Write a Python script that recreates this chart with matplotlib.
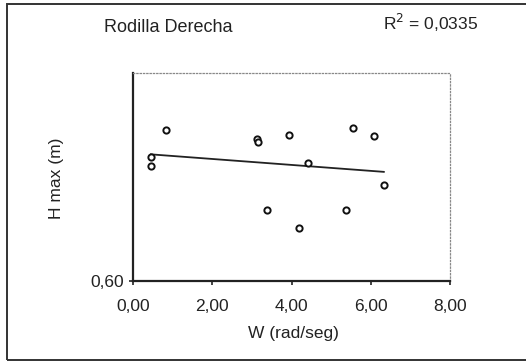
import numpy as np
import matplotlib
matplotlib.use("Agg")
import matplotlib.pyplot as plt
from matplotlib.patches import Rectangle

plt.rcParams['font.family'] = ['Liberation Sans', 'DejaVu Sans']

# data
w_rad_seg = [0.83, 0.45, 0.45, 3.13, 3.15, 3.94, 5.56, 6.09, 4.42, 6.33, 3.38, 5.38, 4.18]
h_max_m = [0.890, 0.838, 0.821, 0.874, 0.868, 0.881, 0.894, 0.878, 0.826, 0.784, 0.737, 0.737, 0.701]
x_ticks = [0, 2, 4, 6, 8]
x_tick_labels = ["0,00", "2,00", "4,00", "6,00", "8,00"]
y_ticks = [0.60]
y_tick_labels = ["0,60"]
title_text = "Rodilla Derecha"
r2_text = r"R$^2$ = 0,0335"

fig = plt.figure(figsize=(5.26, 3.62), dpi=100)
W, H = 526, 362
ax = fig.add_axes([133 / W, 1 - 281 / H, (450 - 133) / W, (281 - 73) / H])

# outer frame
fig.patches.append(Rectangle((7 / W, 2 / H), 1.2, (358 - 2) / H, transform=fig.transFigure,
                             fill=False, edgecolor='#333333', linewidth=1.4))

# trend line (least squares)
xs = np.array(w_rad_seg)
ys = np.array(h_max_m)
m, b = np.polyfit(xs, ys, 1)
xl = np.array([xs.min(), xs.max()])
ax.plot(xl, m * xl + b, color='#222222', linewidth=1.3, zorder=2)

ax.plot(xs, ys, linestyle='none', marker='o', markersize=4.5, markerfacecolor='white',
        markeredgecolor='#111111', markeredgewidth=1.4, zorder=3)

ax.set_xlim(0, 8)
ax.set_ylim(0.60, 1.00)
ax.set_xticks(x_ticks)
ax.set_xticklabels(x_tick_labels)
ax.set_yticks(y_ticks)
ax.set_yticklabels(y_tick_labels)
ax.tick_params(axis='both', labelsize=12.5, colors='#222222', length=3, width=1.2, direction='out')
ax.tick_params(axis='x', pad=10)

for s in ['left', 'bottom']:
    ax.spines[s].set_color('#222222')
    ax.spines[s].set_linewidth(1.6)
for s in ['top', 'right']:
    ax.spines[s].set_color('#888888')
    ax.spines[s].set_linewidth(0.9)
    ax.spines[s].set_linestyle(':')

ax.set_xlabel("W (rad/seg)", fontsize=12.5, color='#222222')
ax.xaxis.set_label_coords((293 - 133) / 317, -(326 - 281) / 208)
ax.set_ylabel("H max (m)", fontsize=12.5, color='#222222')
ax.yaxis.set_label_coords((64 - 133) / 317, (281 - 178) / 208)

fig.text(168 / W, 1 - 27 / H, title_text, fontsize=13, ha='center', va='center', color='#222222')
fig.text(431 / W, 1 - 23 / H, r2_text, fontsize=12.5, ha='center', va='center', color='#222222')

fig.savefig("out.png", dpi=100)
